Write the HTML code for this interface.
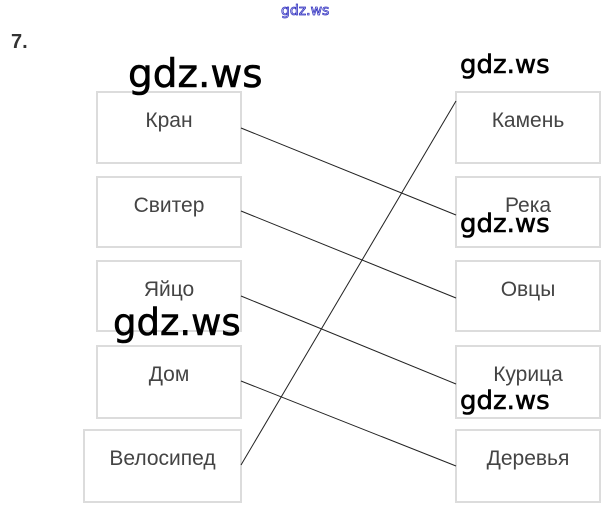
<!DOCTYPE html>
<html><head><meta charset="utf-8"><style>
body{margin:0;width:611px;height:511px;background:#fff;position:relative;overflow:hidden;font-family:"Liberation Sans",sans-serif}
.b{position:absolute;border:2px solid #dcdcdc;box-sizing:border-box;text-align:center;color:#444;font-size:21px;padding-top:16px}
.w{position:absolute;color:#000;font-family:"DejaVu Sans","Liberation Sans",sans-serif;line-height:1;-webkit-text-stroke:0.6px #000}
</style></head><body>
<div class="w" style="left:281px;top:4px;font-size:14px;color:#fff;-webkit-text-stroke:0.8px #3030c0">gdz.ws</div>
<div class="w" style="left:11px;top:32px;font-size:20px;font-weight:bold;color:#333;font-family:'Liberation Sans',sans-serif;-webkit-text-stroke:0">7.</div>
<div class="b" style="left:96px;top:91px;width:146px;height:73px">Кран</div>
<div class="b" style="left:96px;top:176px;width:146px;height:72px">Свитер</div>
<div class="b" style="left:96px;top:260px;width:146px;height:72px">Яйцо</div>
<div class="b" style="left:96px;top:345px;width:146px;height:74px">Дом</div>
<div class="b" style="left:83px;top:429px;width:159px;height:74px">Велосипед</div>
<div class="b" style="left:455px;top:91px;width:146px;height:73px">Камень</div>
<div class="b" style="left:455px;top:176px;width:146px;height:72px">Река</div>
<div class="b" style="left:455px;top:260px;width:146px;height:72px">Овцы</div>
<div class="b" style="left:455px;top:345px;width:146px;height:74px">Курица</div>
<div class="b" style="left:455px;top:429px;width:146px;height:74px">Деревья</div>
<svg style="position:absolute;left:0;top:0" width="611" height="511"><g stroke="#222" stroke-width="1">
<line x1="241" y1="128" x2="456" y2="215"/>
<line x1="241" y1="211" x2="456" y2="298"/>
<line x1="241" y1="296" x2="456" y2="384"/>
<line x1="241" y1="381" x2="456" y2="466"/>
<line x1="241" y1="465" x2="456" y2="101"/>
</g></svg>
<div class="w" style="left:128px;top:55px;font-size:39px">gdz.ws</div>
<div class="w" style="left:460px;top:52px;font-size:26px">gdz.ws</div>
<div class="w" style="left:460px;top:211px;font-size:26px">gdz.ws</div>
<div class="w" style="left:113px;top:304px;font-size:37px">gdz.ws</div>
<div class="w" style="left:460px;top:388px;font-size:26px">gdz.ws</div>
</body></html>
